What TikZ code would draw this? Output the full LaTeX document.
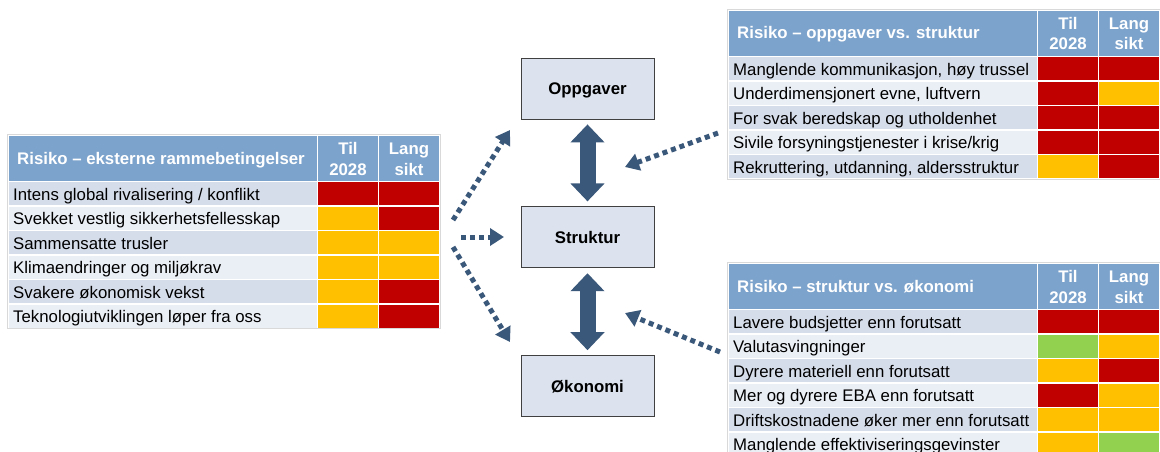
\documentclass[tikz,border=0pt]{standalone}
\usepackage{fontspec}
\setmainfont{Liberation Sans}
\usetikzlibrary{arrows.meta,positioning}
\definecolor{hdblue}{RGB}{124,163,204}
\definecolor{rowdark}{RGB}{214,221,234}
\definecolor{rowlight}{RGB}{234,238,245}
\definecolor{boxfill}{RGB}{220,227,238}
\definecolor{arrblue}{RGB}{58,88,122}
\definecolor{rd}{RGB}{192,0,0}
\definecolor{yl}{RGB}{255,192,0}
\definecolor{gr}{RGB}{146,208,80}
\newcommand\fs{\fontsize{16.8pt}{20pt}\selectfont}

\tikzset{
  cell/.style={draw=white, line width=1.2pt},
  rowtext/.style={anchor=base west, inner sep=0pt, text=black},
  hdtext/.style={font=\fs\bfseries, text=white, inner sep=0pt},
  mainbox/.style={draw=black!75, line width=0.8pt, fill=boxfill, minimum width=133pt, minimum height=61pt, text height=12.5pt, text depth=0pt, font=\fs\bfseries},
  bigarrow/.style={arrblue, line width=16pt, shorten <=5pt, shorten >=5pt, {Triangle[width=33pt,length=18pt]}-{Triangle[width=33pt,length=18pt]}},
  dotarrow/.style={arrblue, line width=5pt, dash pattern=on 5pt off 4pt, -{Triangle[width=17pt,length=14pt]}}
}

% risk table: name, x, y, title, rows {text}/colour/colour
\newcommand\risktab[5]{%
  \begin{scope}[shift={(#2,#3)}]
    \filldraw[cell, fill=hdblue] (0,0) rectangle (309.5,46.5);
    \filldraw[cell, fill=hdblue] (309.5,0) rectangle (370.5,46.5);
    \filldraw[cell, fill=hdblue] (370.5,0) rectangle (431.5,46.5);
    \node[hdtext, anchor=base west] (#1-title) at (9,29) {#4};
    \node[hdtext, anchor=base] (#1-til) at (340,19.5) {Til};
    \node[hdtext, anchor=base] (#1-til2) at (340,40) {2028};
    \node[hdtext, anchor=base] (#1-lang) at (401,19.5) {Lang};
    \node[hdtext, anchor=base] (#1-lang2) at (401,40) {sikt};
    \foreach \txt/\ca/\cb [count=\i] in {#5} {
      \pgfmathsetmacro\yt{46.5+(\i-1)*24.5}
      \pgfmathsetmacro\yb{\yt+24.5}
      \pgfmathtruncatemacro\rowpar{mod(\i,2)}
      \ifnum\rowpar=1 \def\rowcol{rowdark}\else\def\rowcol{rowlight}\fi
      \filldraw[cell, fill=\rowcol] (0,\yt) rectangle (309.5,\yb);
      \filldraw[cell, fill=\ca] (309.5,\yt) rectangle (370.5,\yb);
      \filldraw[cell, fill=\cb] (370.5,\yt) rectangle (431.5,\yb);
      \node[rowtext] (#1-r\i) at (5,\yt+18.7) {\txt};
    }
  \end{scope}
}

\begin{document}
\begin{tikzpicture}[x=1pt, y=-1pt, font=\fs]
\useasboundingbox (0,0) rectangle (1160,452);

% tables
\risktab{ext}{8}{135}{Risiko – eksterne rammebetingelser}{%
  {Intens global rivalisering / konflikt}/rd/rd,
  {Svekket vestlig sikkerhetsfellesskap}/yl/rd,
  {Sammensatte trusler}/yl/yl,
  {Klimaendringer og miljøkrav}/yl/yl,
  {Svakere økonomisk vekst}/yl/rd,
  {Teknologiutviklingen løper fra oss}/yl/rd}
\draw[black!15, line width=0.8pt] (7.5,134.5) rectangle (440,328.5);

\risktab{opp}{728}{10}{Risiko – oppgaver vs. struktur}{%
  {Manglende kommunikasjon, høy trussel}/rd/rd,
  {Underdimensjonert evne, luftvern}/rd/yl,
  {For svak beredskap og utholdenhet}/rd/rd,
  {Sivile forsyningstjenester i krise/krig}/rd/rd,
  {Rekruttering, utdanning, aldersstruktur}/yl/rd}
\draw[black!15, line width=0.8pt] (727.5,9.5) rectangle (1160,179.5);

\risktab{oko}{728}{263}{Risiko – struktur vs. økonomi}{%
  {Lavere budsjetter enn forutsatt}/rd/rd,
  {Valutasvingninger}/gr/yl,
  {Dyrere materiell enn forutsatt}/yl/rd,
  {Mer og dyrere EBA enn forutsatt}/rd/yl,
  {Driftskostnadene øker mer enn forutsatt}/yl/yl,
  {Manglende effektiviseringsgevinster}/yl/gr}
\draw[black!15, line width=0.8pt] (727.5,262.5) rectangle (1160,460);

% main boxes
\node[mainbox] (oppg) at (587.5,88.5) {Oppgaver};
\node[mainbox, below=87pt of oppg] (strukt) {Struktur};
\node[mainbox, below=87pt of strukt] (okon) {Økonomi};

\draw[bigarrow] (oppg) -- (strukt);
\draw[bigarrow] (strukt) -- (okon);

% dotted connectors
\coordinate (lu-s) at (453,220);
\coordinate (lu-e) at (510,130);
\coordinate (lm-s) at (461,237);
\coordinate (lm-e) at (504,237);
\coordinate (ll-s) at (453,247);
\coordinate (ll-e) at (510,342);
\coordinate (ru-s) at (718,133);
\coordinate (ru-e) at (625,167);
\coordinate (rl-s) at (720,352);
\coordinate (rl-e) at (625,313);
\draw[dotarrow] (lu-s) -- (lu-e);
\draw[dotarrow] (lm-s) -- (lm-e);
\draw[dotarrow] (ll-s) -- (ll-e);
\draw[dotarrow] (ru-s) -- (ru-e);
\draw[dotarrow] (rl-s) -- (rl-e);
\end{tikzpicture}
\end{document}
